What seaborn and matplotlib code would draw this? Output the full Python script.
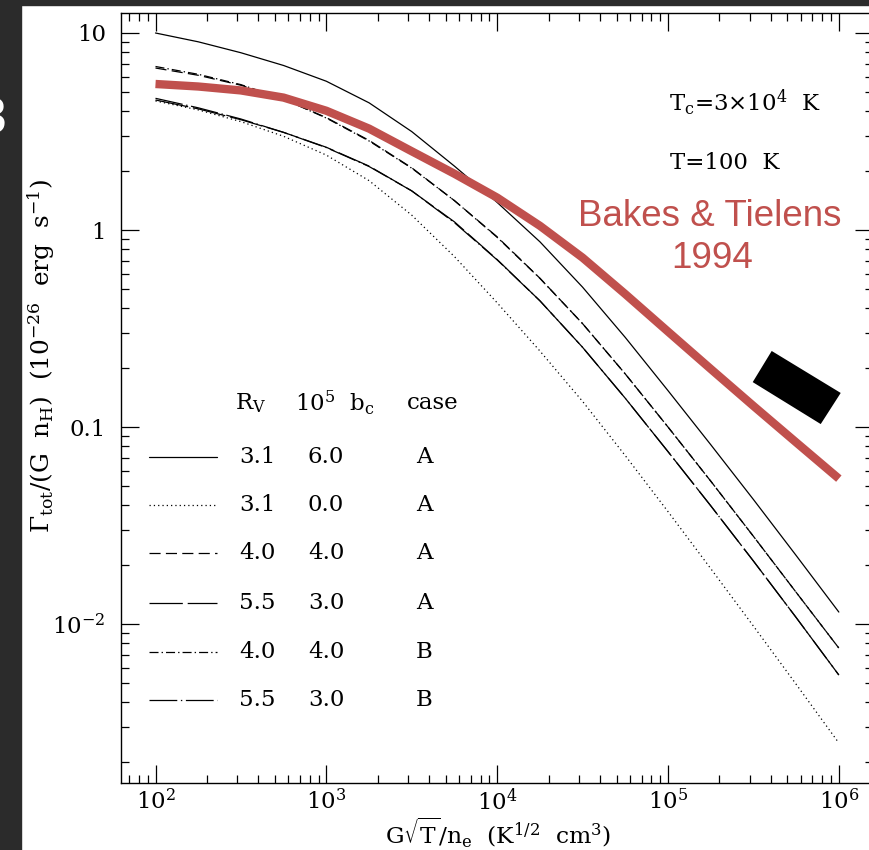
import numpy as np
import pandas as pd
import matplotlib
matplotlib.use("Agg")
import matplotlib.pyplot as plt
import seaborn as sns
from matplotlib.ticker import LogLocator, FixedLocator, FixedFormatter, NullFormatter
from matplotlib.patches import Rectangle

# ---------------- data ----------------
x_vals = [100, 178, 316, 562, 1000, 1780, 3160, 5620, 1.0e4, 1.78e4, 3.16e4,
          5.62e4, 1.0e5, 1.78e5, 3.16e5, 5.62e5, 1.0e6]

y_31_60_A = [10.0, 9.02, 7.94, 6.84, 5.69, 4.42, 3.16, 2.11, 1.38, 0.871, 0.513,
             0.285, 0.153, 0.0813, 0.0429, 0.0223, 0.0115]
y_31_00_A = [4.52, 4.07, 3.55, 2.99, 2.40, 1.78, 1.19, 0.733, 0.427, 0.243, 0.135,
             0.0716, 0.0372, 0.0191, 0.00977, 0.00495, 0.00249]
y_40_40_A = [6.64, 6.10, 5.43, 4.62, 3.72, 2.85, 2.07, 1.41, 0.923, 0.569, 0.335,
             0.186, 0.100, 0.0531, 0.0279, 0.0145, 0.00755]
y_55_30_A = [4.57, 4.12, 3.63, 3.13, 2.63, 2.11, 1.58, 1.10, 0.708, 0.437, 0.254,
             0.140, 0.0750, 0.0398, 0.0209, 0.0108, 0.00551]
y_40_40_B = [6.76, 6.17, 5.47, 4.62, 3.70, 2.83, 2.06, 1.41, 0.918, 0.568, 0.335,
             0.186, 0.100, 0.0531, 0.0279, 0.0145, 0.00755]
y_55_30_B = [4.66, 4.17, 3.66, 3.13, 2.62, 2.10, 1.58, 1.09, 0.705, 0.437, 0.254,
             0.140, 0.0750, 0.0398, 0.0209, 0.0108, 0.00551]
y_bakes_tielens = [5.51, 5.35, 5.11, 4.70, 4.03, 3.27, 2.51, 1.93, 1.46, 1.05, 0.724,
                   0.473, 0.305, 0.197, 0.128, 0.0836, 0.0547]

# legend table
series_names = ["3.1/6.0/A", "3.1/0.0/A", "4.0/4.0/A", "5.5/3.0/A", "4.0/4.0/B", "5.5/3.0/B"]
rv_labels = ["3.1", "3.1", "4.0", "5.5", "4.0", "5.5"]
bc_labels = ["6.0", "0.0", "4.0", "3.0", "4.0", "3.0"]
case_labels = ["A", "A", "A", "A", "B", "B"]

x_tick_vals = [1e2, 1e3, 1e4, 1e5, 1e6]
x_tick_labels = [r"$10^2$", r"$10^3$", r"$10^4$", r"$10^5$", r"$10^6$"]
y_tick_vals = [10, 1, 0.1, 0.01]
y_tick_labels = ["10", "1", "0.1", r"$10^{-2}$"]

# black box corners (data coords)
box_x = [4.046e5, 1.0257e6, 7.834e5, 3.133e5]
box_y = [0.2432, 0.1489, 0.1035, 0.1690]

# ---------------- styling ----------------
sns.set_style("ticks")
plt.rcParams.update({
    "font.family": ["DejaVu Serif"],
    "mathtext.fontset": "dejavuserif",
    "lines.scale_dashes": False,
    "text.color": "black",
    "axes.labelcolor": "black",
    "xtick.color": "black",
    "ytick.color": "black",
    "axes.edgecolor": "black",
})
FS = 16.5

W, H = 869, 850
fig = plt.figure(figsize=(W / 100, H / 100), dpi=100)
fig.patch.set_facecolor("white")
AX_L, AX_R, AX_T, AX_B = 121, 873, 13, 783
ax = fig.add_axes([AX_L / W, 1 - AX_B / H, (AX_R - AX_L) / W, (AX_B - AX_T) / H])
ax.set_facecolor("white")


def axx(px):
    return (px - AX_L) / (AX_R - AX_L)


def axy(py):
    return (AX_B - py) / (AX_B - AX_T)


dash_map = {
    "3.1/6.0/A": "",
    "3.1/0.0/A": (0.9, 2.2),
    "4.0/4.0/A": (8.0, 3.8),
    "5.5/3.0/A": (24.0, 3.5),
    "4.0/4.0/B": (6.5, 2.2, 1.0, 2.2),
    "5.5/3.0/B": (20.0, 2.6, 1.0, 2.6),
}
series_vals = [y_31_60_A, y_31_00_A, y_40_40_A, y_55_30_A, y_40_40_B, y_55_30_B]

rows = []
for name, vals in zip(series_names, series_vals):
    for xv, yv in zip(x_vals, vals):
        rows.append({"x": xv, "y": yv, "series": name})
df = pd.DataFrame(rows)

sns.lineplot(data=df, x="x", y="y", style="series", dashes=dash_map,
             color="black", linewidth=0.9, estimator=None, sort=False,
             legend=False, ax=ax)

df_red = pd.DataFrame({"x": x_vals, "y": y_bakes_tielens})
sns.lineplot(data=df_red, x="x", y="y", color="#c0504d", linewidth=6.0,
             estimator=None, sort=False, legend=False, ax=ax, zorder=5)
ax.lines[-1].set_solid_capstyle("butt")
ax.lines[-1].set_solid_joinstyle("round")

ax.fill(box_x, box_y, color="black", zorder=6, lw=0)

ax.set_xscale("log")
ax.set_yscale("log")
ax.set_xlim(10 ** 1.798, 10 ** 6.2)
ax.set_ylim(10 ** -2.807, 10 ** 1.1015)
ax.xaxis.set_major_locator(FixedLocator(x_tick_vals))
ax.xaxis.set_major_formatter(FixedFormatter(x_tick_labels))
ax.yaxis.set_major_locator(FixedLocator(y_tick_vals))
ax.yaxis.set_major_formatter(FixedFormatter(y_tick_labels))
for a in (ax.xaxis, ax.yaxis):
    a.set_minor_locator(LogLocator(base=10, subs=np.arange(2, 10), numticks=30))
    a.set_minor_formatter(NullFormatter())
ax.tick_params(which="both", direction="in", top=True, right=True, width=0.9)
ax.tick_params(which="major", length=13, labelsize=FS)
ax.tick_params(which="minor", length=6)
ax.tick_params(axis="x", which="major", pad=4)
ax.tick_params(axis="y", which="major", pad=11)
for s in ax.spines.values():
    s.set_linewidth(1.0)
    s.set_color("black")
ax.set_xlabel("")
ax.set_ylabel("")

# axis labels
fig.text(498 / W, 1 - 832 / H,
         r"$\mathrm{G}\sqrt{\mathrm{T}}/\mathrm{n_e}\ \ (\mathrm{K^{1/2}\ \ cm^3})$",
         ha="center", va="center", fontsize=16.8)
fig.text(41 / W, 1 - 356 / H,
         r"$\Gamma_{\mathrm{tot}}/(\mathrm{G\ \ n_H})\ \ (10^{-26}\ \ \mathrm{erg\ \ s^{-1}})$",
         ha="center", va="center", rotation=90, fontsize=17.8)

# annotations
ax.text(axx(669), axy(103), r"$\mathrm{T_c}$=3$\times$10$^4$  K", ha="left", va="center",
        fontsize=FS, transform=ax.transAxes)
ax.text(axx(670), axy(163), "T=100  K", ha="left", va="center",
        fontsize=FS, transform=ax.transAxes)
ax.text(axx(710), axy(216), "Bakes & Tielens", ha="center", va="center",
        fontsize=26.5, color="#c0504d", family="Liberation Sans", transform=ax.transAxes)
ax.text(axx(712), axy(258), "1994", ha="center", va="center",
        fontsize=26.5, color="#c0504d", family="Liberation Sans", transform=ax.transAxes)

# manual legend table
ax.text(axx(251), axy(403), r"$\mathrm{R_V}$", ha="center", va="center", fontsize=FS,
        transform=ax.transAxes)
ax.text(axx(335), axy(403), r"$\mathrm{10^5\ \ b_c}$", ha="center", va="center", fontsize=FS,
        transform=ax.transAxes)
ax.text(axx(433), axy(403), "case", ha="center", va="center", fontsize=FS,
        transform=ax.transAxes)
row_y = [457, 505, 553, 603, 652, 700]
for name, ry, rv, bc, cs in zip(series_names, row_y, rv_labels, bc_labels, case_labels):
    ln, = ax.plot([axx(149), axx(217)], [axy(ry), axy(ry)], color="black", lw=0.9,
                  transform=ax.transAxes)
    d = dash_map[name]
    if d:
        ln.set_dashes(d)
    ax.text(axx(257), axy(ry), rv, ha="center", va="center", fontsize=FS, transform=ax.transAxes)
    ax.text(axx(326), axy(ry), bc, ha="center", va="center", fontsize=FS, transform=ax.transAxes)
    ax.text(axx(424), axy(ry), cs, ha="center", va="center", fontsize=FS, transform=ax.transAxes)

# dark frame of the screenshot
fig.patches.append(Rectangle((0, 0), 21 / W, 1, transform=fig.transFigure,
                             color="#2b2b2b", zorder=10))
fig.patches.append(Rectangle((0, 1 - 4.5 / H), 1, 4.5 / H, transform=fig.transFigure,
                             color="#2b2b2b", zorder=10))
fig.text(6 / W, 1 - 120 / H, "3", ha="right", va="center", fontsize=36, color="white",
         family="Liberation Sans", zorder=11)

fig.savefig("out.png", dpi=100, facecolor="white")
